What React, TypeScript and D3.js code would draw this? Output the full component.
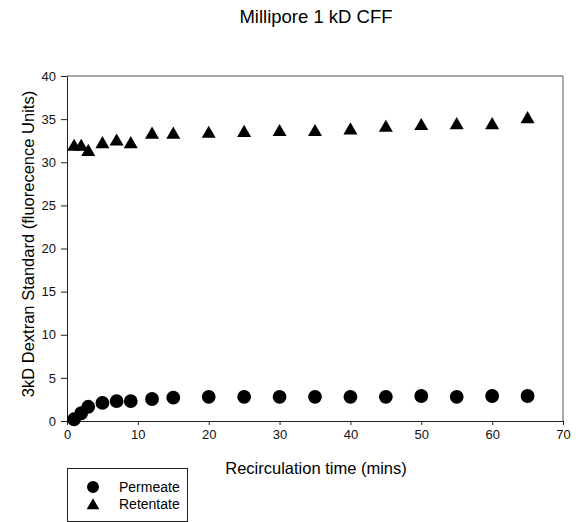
import React, { useEffect, useRef } from 'react';
import * as d3 from 'd3';

// recirculation time (mins)
const times = [1, 2, 3, 5, 7, 9, 12, 15, 20, 25, 30, 35, 40, 45, 50, 55, 60, 65];
const permeate = [0.2, 0.9, 1.65, 2.1, 2.3, 2.3, 2.55, 2.7, 2.8, 2.8, 2.8, 2.8, 2.8, 2.8, 2.9, 2.8, 2.9, 2.9];
const retentate = [31.8, 31.8, 31.2, 32.1, 32.4, 32.1, 33.2, 33.2, 33.3, 33.4, 33.5, 33.5, 33.7, 34.0, 34.2, 34.3, 34.3, 35.0];
const xTicks = [0, 10, 20, 30, 40, 50, 60, 70];
const yTicks = [0, 5, 10, 15, 20, 25, 30, 35, 40];

const W = 581, H = 522;
const margin = { top: 76, right: 18, bottom: 101, left: 67 };
const FONT = '"Liberation Sans", Arial, Helvetica, sans-serif';

function App() {
  const ref = useRef<SVGSVGElement>(null);

  useEffect(() => {
    const svg = d3.select(ref.current);
    svg.selectAll('*').remove();

    const width = W - margin.left - margin.right;
    const height = H - margin.top - margin.bottom;

    const x = d3.scaleLinear().domain([0, 70]).range([0, width]);
    const y = d3.scaleLinear().domain([0, 40]).range([height, 0]);

    svg.append('text')
      .attr('x', 316).attr('y', 23)
      .attr('text-anchor', 'middle')
      .style('font', `18.5px ${FONT}`)
      .text('Millipore 1 kD CFF');

    const g = svg.append('g')
      .attr('transform', 'translate(' + margin.left + ',' + margin.top + ')');

    // frame (top + right)
    g.append('path')
      .attr('d', `M0,0H${width}V${height}`)
      .attr('fill', 'none')
      .attr('stroke', '#555')
      .attr('stroke-width', 1);

    const xAxis = g.append('g')
      .attr('transform', 'translate(0,' + height + ')')
      .call(d3.axisBottom(x).tickValues(xTicks).tickSize(4).tickSizeOuter(0).tickPadding(5));
    const yAxis = g.append('g')
      .call(d3.axisLeft(y).tickValues(yTicks).tickSize(6).tickSizeOuter(0).tickPadding(5));

    [xAxis, yAxis].forEach(a => {
      a.selectAll('text').style('font', `13px ${FONT}`).attr('fill', '#111');
      a.selectAll('line,path').attr('stroke', '#222');
    });

    // axis titles
    svg.append('text')
      .attr('x', 316).attr('y', 474)
      .attr('text-anchor', 'middle')
      .style('font', `16.5px ${FONT}`)
      .text('Recirculation time (mins)');
    svg.append('text')
      .attr('transform', 'translate(34,244) rotate(-90)')
      .attr('text-anchor', 'middle')
      .style('font', `16.5px ${FONT}`)
      .text('3kD Dextran Standard (fluorecence Units)');

    const circle = d3.symbol().type(d3.symbolCircle).size(150);
    const tri = d3.symbol().type(d3.symbolTriangle).size(85);

    g.selectAll('.perm')
      .data(times)
      .enter().append('path')
      .attr('class', 'perm')
      .attr('d', circle)
      .attr('transform', (d, i) => `translate(${x(d)},${y(permeate[i])})`)
      .attr('fill', '#000');

    g.selectAll('.ret')
      .data(times)
      .enter().append('path')
      .attr('class', 'ret')
      .attr('d', tri)
      .attr('transform', (d, i) => `translate(${x(d)},${y(retentate[i])})`)
      .attr('fill', '#000');

    // legend
    const lg = svg.append('g').attr('transform', 'translate(67,468)');
    lg.append('rect')
      .attr('x', 0.5).attr('y', 0.5).attr('width', 120).attr('height', 53)
      .attr('fill', 'none').attr('stroke', '#222');
    const items = [
      { label: 'Permeate', sym: d3.symbol().type(d3.symbolCircle).size(113) },
      { label: 'Retentate', sym: d3.symbol().type(d3.symbolTriangle).size(70) },
    ];
    items.forEach((it, i) => {
      lg.append('path')
        .attr('d', it.sym)
        .attr('transform', `translate(26,${19 + i * 18.5})`)
        .attr('fill', '#000');
      lg.append('text')
        .attr('x', 52).attr('y', 24 + i * 17)
        .style('font', `14px ${FONT}`)
        .text(it.label);
    });
  }, []);

  return (
    <svg ref={ref} width={W} height={H}
      style={{ position: 'absolute', left: 0, top: 0, background: '#fff' }} />
  );
}

export default App;
